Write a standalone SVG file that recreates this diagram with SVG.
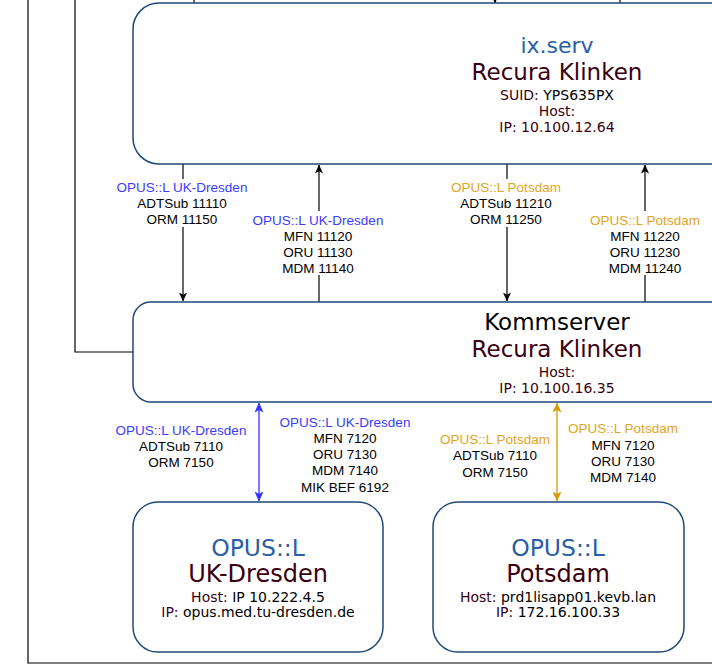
<svg xmlns="http://www.w3.org/2000/svg" width="712" height="666" viewBox="0 0 712 666">
<defs>
<style>
.box{fill:#fff;stroke:#1f4a78;stroke-width:1.5}
.ln{fill:none;stroke:#000;stroke-width:1.2}
.t{font-family:"DejaVu Sans","Noto Sans",sans-serif;text-anchor:middle}
.title{font-size:22px;fill:#2a5fa5}
.title2{font-size:23.5px;fill:#2a5fa5}
.big{font-size:23px;fill:#3a0012}
.big2{font-size:24px;fill:#3a0012}
.blk{font-size:23px;fill:#000}
.sm{font-size:14px;fill:#000}
.lbl{fill:#3a0010}
.e{font-family:"Liberation Sans",Arial,sans-serif;font-size:13.5px;text-anchor:middle;fill:#000}
.ub{fill:#3b3bff}
.po{fill:#e2a522}
</style>
<marker id="ab" viewBox="0 0 10 10" refX="9.5" refY="5" markerWidth="9" markerHeight="9" markerUnits="userSpaceOnUse" orient="auto-start-reverse">
<path d="M0,0.5 L10,5 L0,9.5 L2.5,5 z" fill="#000"/>
</marker>
<marker id="abb" viewBox="0 0 10 10" refX="9.5" refY="5" markerWidth="10" markerHeight="10" markerUnits="userSpaceOnUse" orient="auto-start-reverse">
<path d="M0,0.5 L10,5 L0,9.5 L2.5,5 z" fill="#3333ff"/>
</marker>
<marker id="abo" viewBox="0 0 10 10" refX="9.5" refY="5" markerWidth="10" markerHeight="10" markerUnits="userSpaceOnUse" orient="auto-start-reverse">
<path d="M0,0.5 L10,5 L0,9.5 L2.5,5 z" fill="#d79b00"/>
</marker>
</defs>
<rect width="712" height="666" fill="#fff"/>

<g id="frame">
<path d="M28,0 V663 H712" fill="none" stroke="#000" stroke-width="1.2"/>
</g>

<g id="connectors">
<path class="ln" d="M75,0 V352 H133"/>
<path class="ln" d="M194,0 V3"/>
<path class="ln" d="M620,0 V3"/>
<path class="ln" d="M495,-6 V3" marker-end="url(#ab)"/>
<path class="ln" d="M183,164 V301" marker-end="url(#ab)"/>
<path class="ln" d="M319,302 V165" marker-end="url(#ab)"/>
<path class="ln" d="M507,164 V301" marker-end="url(#ab)"/>
<path class="ln" d="M645,302 V165" marker-end="url(#ab)"/>
<path d="M259,403 V501" fill="none" stroke="#3333ff" stroke-width="1.3" marker-start="url(#abb)" marker-end="url(#abb)"/>
<path d="M557,403 V501" fill="none" stroke="#d79b00" stroke-width="1.3" marker-start="url(#abo)" marker-end="url(#abo)"/>

<g id="lbl1">
<rect x="112" y="179" width="142" height="48" fill="#fff"/>
<text class="e ub" x="182" y="192">OPUS::L UK-Dresden</text>
<text class="e" x="182" y="208">ADTSub 11110</text>
<text class="e" x="182" y="224">ORM 11150</text>
</g>
<g id="lbl2">
<rect x="248" y="211" width="142" height="64" fill="#fff"/>
<text class="e ub" x="318" y="225">OPUS::L UK-Dresden</text>
<text class="e" x="318" y="241">MFN 11120</text>
<text class="e" x="318" y="257">ORU 11130</text>
<text class="e" x="318" y="273">MDM 11140</text>
</g>
<g id="lbl3">
<rect x="448" y="179" width="118" height="48" fill="#fff"/>
<text class="e po" x="506" y="192">OPUS::L Potsdam</text>
<text class="e" x="506" y="208">ADTSub 11210</text>
<text class="e" x="506" y="224">ORM 11250</text>
</g>
<g id="lbl4">
<rect x="586" y="211" width="120" height="64" fill="#fff"/>
<text class="e po" x="645" y="225">OPUS::L Potsdam</text>
<text class="e" x="645" y="241">MFN 11220</text>
<text class="e" x="645" y="257">ORU 11230</text>
<text class="e" x="645" y="273">MDM 11240</text>
</g>
<g id="lbl5">
<text class="e ub" x="181" y="435">OPUS::L UK-Dresden</text>
<text class="e" x="181" y="451">ADTSub 7110</text>
<text class="e" x="181" y="467">ORM 7150</text>
</g>
<g id="lbl6">
<text class="e ub" x="345" y="427">OPUS::L UK-Dresden</text>
<text class="e" x="345" y="443">MFN 7120</text>
<text class="e" x="345" y="459">ORU 7130</text>
<text class="e" x="345" y="475">MDM 7140</text>
<text class="e" x="345" y="492">MIK BEF 6192</text>
</g>
<g id="lbl7">
<text class="e po" x="495" y="444">OPUS::L Potsdam</text>
<text class="e" x="495" y="460">ADTSub 7110</text>
<text class="e" x="495" y="477">ORM 7150</text>
</g>
<g id="lbl8">
<text class="e po" x="623" y="433">OPUS::L Potsdam</text>
<text class="e" x="623" y="450">MFN 7120</text>
<text class="e" x="623" y="466">ORU 7130</text>
<text class="e" x="623" y="482">MDM 7140</text>
</g>
</g>

<g id="ixserv">
<rect class="box" x="133" y="3" width="640" height="161" rx="26"/>
<text class="t title" x="557" y="53">ix.serv</text>
<text class="t big" x="557" y="80">Recura Klinken</text>
<text class="t sm" x="557" y="99.5"><tspan class="lbl">SUID:</tspan> YPS635PX</text>
<text class="t sm lbl" x="557" y="115.5">Host:</text>
<text class="t sm lbl" x="557" y="132">IP: 10.100.12.64</text>
</g>

<g id="kommserver">
<rect class="box" x="133" y="302" width="640" height="100" rx="18"/>
<text class="t blk" x="557" y="330">Kommserver</text>
<text class="t big" x="557" y="357">Recura Klinken</text>
<text class="t sm lbl" x="557" y="376.5">Host:</text>
<text class="t sm lbl" x="557" y="392.5">IP: 10.100.16.35</text>
</g>

<g id="opus-dresden">
<rect class="box" x="133" y="502" width="250" height="150" rx="25"/>
<text class="t title2" x="258" y="556">OPUS::L</text>
<text class="t big2" x="258" y="582">UK-Dresden</text>
<text class="t sm" x="258" y="601.5"><tspan class="lbl">Host:</tspan> IP 10.222.4.5</text>
<text class="t sm" x="258" y="617"><tspan fill="#3a0040">IP:</tspan> opus.med.tu-dresden.de</text>
</g>

<g id="opus-potsdam">
<rect class="box" x="433" y="502" width="251" height="150" rx="25"/>
<text class="t title2" x="558" y="556">OPUS::L</text>
<text class="t big2" x="558" y="582">Potsdam</text>
<text class="t sm" x="558" y="601.5"><tspan class="lbl">Host:</tspan> prd1lisapp01.kevb.lan</text>
<text class="t sm" x="558" y="617"><tspan class="lbl">IP:</tspan> 172.16.100.33</text>
</g>
</svg>
